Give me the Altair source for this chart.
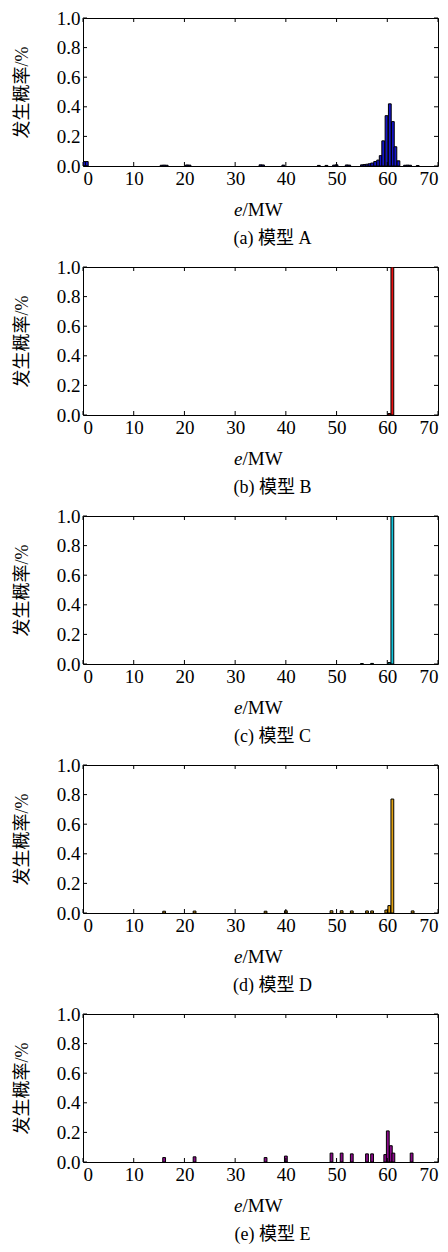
import altair as alt
import pandas as pd

# ---------------- data ----------------
x_ticks = [0, 10, 20, 30, 40, 50, 60, 70]
y_ticks = [0.0, 0.2, 0.4, 0.6, 0.8, 1.0]

bin_width = 0.55

# Panel A (model A) - bar centres (MW) and probabilities
a_e = [0.25, 0.75, 15.5, 16.0, 16.5, 20.5, 21.0, 35.0, 35.5, 39.5,
       46.5, 48.0, 49.5, 50.0, 52.0, 52.5, 55.0, 55.5, 56.0, 56.5, 57.0,
       57.6, 58.2, 58.7, 59.2, 59.85, 60.5, 61.1, 61.6, 62.2, 63.5, 64.0, 64.5, 66.0]
a_p = [0.03, 0.03, 0.005, 0.006, 0.005, 0.007, 0.006, 0.008, 0.007, 0.006,
       0.004, 0.004, 0.006, 0.008, 0.007, 0.006, 0.008, 0.01, 0.012, 0.015, 0.02,
       0.03, 0.04, 0.07, 0.17, 0.34, 0.42, 0.30, 0.13, 0.035, 0.005, 0.006, 0.005, 0.003]

# Panel B (model B)
b_e = [60.4, 61.0]
b_p = [0.01, 1.0]

# Panel C (model C)
c_e = [55.0, 57.0, 60.4, 61.0]
c_p = [0.003, 0.004, 0.01, 1.0]

# Panel D (model D)
d_e = [16.0, 22.0, 36.0, 40.0, 49.0, 51.0, 53.0, 56.0, 57.0, 59.8, 60.4, 61.0, 65.0]
d_p = [0.012, 0.013, 0.012, 0.015, 0.015, 0.015, 0.014, 0.014, 0.014, 0.02, 0.05, 0.77, 0.014]

# Panel E (model E)
e_e = [16.0, 22.0, 36.0, 40.0, 49.0, 51.0, 53.0, 56.0, 57.0, 59.6, 60.1, 60.7, 61.2, 64.8]
e_p = [0.03, 0.035, 0.03, 0.04, 0.06, 0.06, 0.055, 0.055, 0.055, 0.05, 0.21, 0.11, 0.06, 0.06]

captions = ["(a)  模型 A", "(b)  模型 B", "(c)  模型 C", "(d)  模型 D", "(e)  模型 E"]
colors = ["#1414C8", "#E81010", "#10C4DC", "#E0A010", "#8A0A8A"]
series = [(a_e, a_p), (b_e, b_p), (c_e, c_p), (d_e, d_p), (e_e, e_p)]

# ---------------- layout / style ----------------
W, H = 355, 148
FONT = "Liberation Serif, Times New Roman, Noto Sans CJK SC"
TICK = 4

xs = alt.Scale(domain=[0, 70], nice=False, zero=False)
ys = alt.Scale(domain=[0, 1], nice=False)
x_axis = alt.Axis(values=x_ticks, title=None, format="d", labelOverlap=False)
y_axis = alt.Axis(values=y_ticks, format=".1f", title="发生概率/%", labelOverlap=False)

xtick_df = pd.DataFrame({"t": x_ticks})
ytick_df = pd.DataFrame({"v": y_ticks})


def panel(e, p, color, caption):
    df = pd.DataFrame({"e": e, "p": p})
    df["e0"] = df["e"] - bin_width / 2
    df["e1"] = df["e"] + bin_width / 2

    bars = alt.Chart(df).mark_rect(
        fill=color, stroke="black", strokeWidth=1, clip=True
    ).encode(
        x=alt.X("e0:Q", scale=xs, axis=x_axis),
        x2="e1:Q",
        y=alt.Y("p:Q", scale=ys, axis=y_axis),
        y2=alt.Y2(datum=0),
    )

    xt_bottom = alt.Chart(xtick_df).mark_rule(color="black", strokeWidth=1).encode(
        x=alt.X("t:Q", scale=xs, axis=x_axis), y=alt.value(H), y2=alt.value(H - TICK))
    xt_top = alt.Chart(xtick_df).mark_rule(color="black", strokeWidth=1).encode(
        x=alt.X("t:Q", scale=xs, axis=x_axis), y=alt.value(0), y2=alt.value(TICK))
    yt_left = alt.Chart(ytick_df).mark_rule(color="black", strokeWidth=1).encode(
        y=alt.Y("v:Q", scale=ys, axis=y_axis), x=alt.value(0), x2=alt.value(TICK))
    yt_right = alt.Chart(ytick_df).mark_rule(color="black", strokeWidth=1).encode(
        y=alt.Y("v:Q", scale=ys, axis=y_axis), x=alt.value(W), x2=alt.value(W - TICK))

    lab = pd.DataFrame({"e_txt": ["e"], "mw_txt": ["/MW"], "cap": [caption]})
    t_e = alt.Chart(lab).mark_text(
        font=FONT, fontSize=19, fontStyle="italic", align="right", baseline="alphabetic"
    ).encode(text="e_txt:N", x=alt.value(W / 2 - 18), y=alt.value(H + 50))
    t_mw = alt.Chart(lab).mark_text(
        font=FONT, fontSize=19, align="left", baseline="alphabetic"
    ).encode(text="mw_txt:N", x=alt.value(W / 2 - 18), y=alt.value(H + 50))
    t_cap = alt.Chart(lab).mark_text(
        font=FONT, fontSize=18, align="center", baseline="alphabetic"
    ).encode(text="cap:N", x=alt.value(W / 2 + 12), y=alt.value(H + 78))

    return alt.layer(bars, xt_bottom, xt_top, yt_left, yt_right, t_e, t_mw, t_cap).properties(
        width=W, height=H)


panels = [panel(e, p, c, cap) for (e, p), c, cap in zip(series, colors, captions)]

chart = alt.vconcat(*panels, spacing=8).properties(
    padding={"left": 4, "top": 0, "right": 0, "bottom": 0}
).configure_view(
    stroke="black", strokeWidth=1
).configure_axis(
    ticks=False, domain=False, grid=False,
    labelFont=FONT, labelFontSize=19, labelColor="black", labelPadding=3,
    titleFont=FONT, titleFontSize=18, titleColor="black", titleFontWeight="normal",
    titlePadding=25,
)

chart.save("out.html", embed_options={"renderer": "svg", "actions": False})
